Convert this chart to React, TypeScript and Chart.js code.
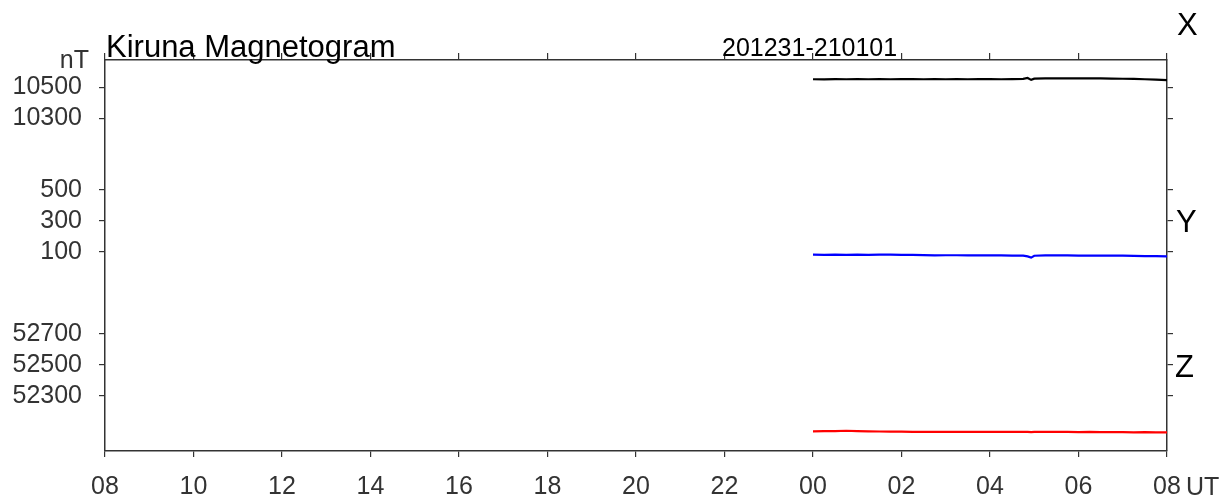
import React, { useEffect, useRef } from "react";
import { Chart, registerables } from "chart.js";

Chart.register(...registerables);

// ---- data ----
// Hours UT on 2021-01-01 (window runs 08 UT on 201231 to 08 UT on 210101)
const hoursUT = [
  0, 0.25, 0.5, 0.75, 1, 1.25, 1.5, 1.75, 2, 2.25, 2.5, 2.75, 3, 3.25, 3.5, 3.75,
  4, 4.25, 4.5, 4.75, 4.85, 4.93, 5, 5.25, 5.5, 5.75, 6, 6.25, 6.5, 6.75, 7, 7.25,
  7.5, 7.75, 8,
];
const xComponent = [
  10552, 10551, 10553, 10552, 10553, 10552, 10553, 10552, 10553, 10553, 10552,
  10553, 10552, 10553, 10552, 10553, 10553, 10552, 10553, 10554, 10560, 10548,
  10556, 10557, 10557, 10558, 10558, 10557, 10557, 10556, 10555, 10554, 10552,
  10549, 10546,
];
const yComponent = [
  83, 82, 83, 82, 83, 82, 83, 83, 82, 82, 80, 78, 79, 79, 78, 79, 78, 78, 77, 77,
  72, 64, 76, 78, 78, 78, 77, 77, 77, 76, 76, 75, 74, 73, 72,
];
const zComponent = [
  52072, 52073, 52074, 52076, 52074, 52072, 52071, 52070, 52070, 52069, 52069,
  52068, 52068, 52068, 52069, 52068, 52068, 52069, 52068, 52068, 52069, 52067,
  52069, 52068, 52068, 52068, 52067, 52068, 52067, 52067, 52067, 52066, 52067,
  52066, 52066,
];
const xTickValues = [10300, 10500];
const yTickValues = [100, 300, 500];
const zTickValues = [52300, 52500, 52700];
const timeTickLabels = ["08", "10", "12", "14", "16", "18", "20", "22", "00", "02", "04", "06", "08"];
const titleText = "Kiruna Magnetogram";
const dateText = "201231-210101";

// ---- panel layout on a shared nT-scaled axis ----
const WINDOW_START_HOUR = 8;
const V_MAX = 2522.6; // total nT span of the plot height
const xRef = { nT: 10500, at: 2346.5 };
const yRef = { nT: 100, at: 1283.9 };
const zRef = { nT: 52300, at: 354.8 };
const toV = (ref: { nT: number; at: number }, v: number) => v - ref.nT + ref.at;

const FONT = '"Liberation Sans", Arial, Helvetica, sans-serif';

const tickDefs = [
  ...zTickValues.map((v) => ({ value: toV(zRef, v), label: String(v) })),
  ...yTickValues.map((v) => ({ value: toV(yRef, v), label: String(v) })),
  ...xTickValues.map((v) => ({ value: toV(xRef, v), label: String(v) })),
].sort((a, b) => a.value - b.value);

const series = (ref: { nT: number; at: number }, vals: number[]) =>
  hoursUT.map((h, i) => ({ x: h + (24 - WINDOW_START_HOUR), y: toV(ref, vals[i]) }));

const AXIS_COLOR = "#333";

const textPlugin = {
  id: "magText",
  afterDraw(chart: any) {
    const ctx = chart.ctx as CanvasRenderingContext2D;
    const a = chart.chartArea;
    const ys = chart.scales.y;
    ctx.save();
    ctx.textBaseline = "alphabetic";
    ctx.fillStyle = "#000";
    ctx.textAlign = "left";
    ctx.font = `31px ${FONT}`;
    ctx.fillText(titleText, a.left + 1, a.top - 3);
    ctx.font = `25px ${FONT}`;
    ctx.fillText(dateText, 722, a.top - 4);
    ctx.font = `31px ${FONT}`;
    ctx.fillText("X", a.right + 10, 35);
    ctx.fillText("Y", a.right + 9, ys.getPixelForValue(toV(yRef, 300)) + 11);
    ctx.fillText("Z", a.right + 8, ys.getPixelForValue(toV(zRef, 52500)) + 12);
    ctx.fillStyle = AXIS_COLOR;
    ctx.font = `25px ${FONT}`;
    ctx.textAlign = "right";
    ctx.fillText("nT", 89, 68);
    ctx.textAlign = "left";
    ctx.fillText("UT", a.right + 19, 495);
    ctx.restore();
  },
};

export default function App() {
  const ref = useRef<HTMLCanvasElement | null>(null);
  useEffect(() => {
    if (!ref.current) return;
    const timeAxisBase = {
      type: "linear" as const,
      min: 0,
      max: 24,
      border: { display: true, color: AXIS_COLOR, width: 1.5 },
    };
    const buildTicks = (scale: any) => {
      scale.ticks = tickDefs.map((t) => ({ value: t.value }));
    };
    const chart = new Chart(ref.current, {
      type: "line",
      data: {
        datasets: [
          { data: series(xRef, xComponent), borderColor: "#000000", borderWidth: 2.2, pointRadius: 0 },
          { data: series(yRef, yComponent), borderColor: "#0000ff", borderWidth: 2.2, pointRadius: 0 },
          { data: series(zRef, zComponent), borderColor: "#ff0000", borderWidth: 2.2, pointRadius: 0 },
        ],
      },
      options: {
        animation: false,
        responsive: false,
        events: [],
        layout: { padding: 0 },
        plugins: { legend: { display: false }, tooltip: { enabled: false }, title: { display: false } },
        scales: {
          x: {
            ...timeAxisBase,
            position: "bottom",
            grid: { drawOnChartArea: false, drawTicks: true, tickLength: 6, color: AXIS_COLOR, lineWidth: 1.2 },
            ticks: {
              stepSize: 2,
              autoSkip: false,
              maxRotation: 0,
              padding: 15,
              color: AXIS_COLOR,
              font: { family: FONT, size: 25 },
              callback: (v: any) => timeTickLabels[Math.round(Number(v) / 2)] ?? "",
            },
            afterFit: (s: any) => {
              s.height = 48;
            },
          },
          x2: {
            ...timeAxisBase,
            position: "top",
            grid: { drawOnChartArea: false, drawTicks: true, tickLength: 7, color: AXIS_COLOR, lineWidth: 1.2 },
            ticks: { stepSize: 2, autoSkip: false, display: false },
            afterFit: (s: any) => {
              s.height = 60;
            },
          },
          y: {
            type: "linear",
            position: "left",
            min: 0,
            max: V_MAX,
            border: { display: true, color: AXIS_COLOR, width: 1.5 },
            grid: { drawOnChartArea: false, drawTicks: true, tickLength: 6, color: AXIS_COLOR, lineWidth: 1.2 },
            afterBuildTicks: buildTicks,
            ticks: {
              autoSkip: false,
              padding: 17,
              color: AXIS_COLOR,
              font: { family: FONT, size: 25 },
              callback: (v: any) => {
                const t = tickDefs.find((d) => Math.abs(d.value - Number(v)) < 0.01);
                return t ? t.label : "";
              },
            },
            afterFit: (s: any) => {
              s.width = 105;
            },
          },
          y2: {
            type: "linear",
            position: "right",
            min: 0,
            max: V_MAX,
            border: { display: true, color: AXIS_COLOR, width: 1.5 },
            grid: { drawOnChartArea: false, drawTicks: true, tickLength: 6, color: AXIS_COLOR, lineWidth: 1.2 },
            afterBuildTicks: buildTicks,
            ticks: { autoSkip: false, display: false },
            afterFit: (s: any) => {
              s.width = 56;
            },
          },
        },
      },
      plugins: [textPlugin],
    } as any);
    return () => chart.destroy();
  }, []);

  return (
    <div style={{ position: "absolute", left: 0, top: 0, width: 1223, height: 499, background: "#fff" }}>
      <canvas ref={ref} width={1223} height={499} style={{ width: 1223, height: 499, display: "block" }} />
    </div>
  );
}
